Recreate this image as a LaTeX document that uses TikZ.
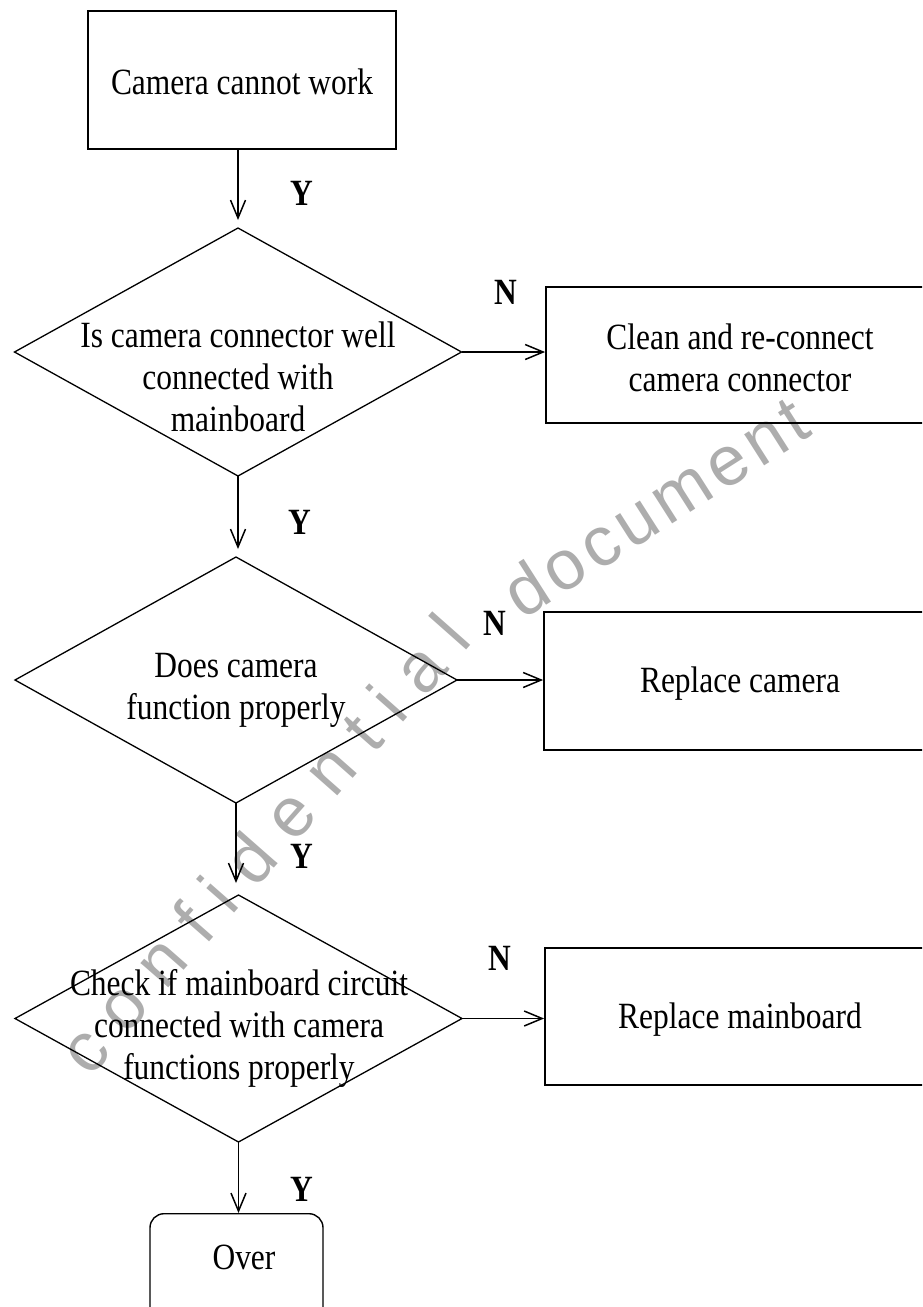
\documentclass[tikz,border=0pt]{standalone}
\usepackage{fontspec}
\setmainfont{Liberation Serif}[FakeStretch=0.85]
\newfontfamily\wmfont{Liberation Sans}
\usetikzlibrary{shapes.geometric,arrows.meta,decorations.text}
\begin{document}
\begin{tikzpicture}[x=1pt,y=-1pt,
  box/.style={draw,line width=1.8pt,rectangle,inner sep=0pt},
  dec/.style={draw,line width=1.3pt,diamond,inner sep=0pt,outer sep=0pt},
  txt/.style={align=center,inner sep=0pt,font=\fontsize{37}{42}\selectfont},
  lab/.style={inner sep=0pt,font=\fontsize{37}{42}\selectfont\bfseries},
  arr/.style={line width=1.5pt,-{Straight Barb[length=18pt,width=15pt,line width=1.5pt]}},
  wm/.style={decorate,decoration={text along path,
     text={|\wmfont\fontsize{70}{70}\selectfont|#1},
     text color=black!32, text align=fit to path}},
]
\useasboundingbox (0,0) rectangle (922,1307);
\clip (0,0) rectangle (922,1307);

% watermark
\coordinate (wma) at (90,1078);
\coordinate (wmac) at (290,850);
\coordinate (wmb) at (474,642);
\coordinate (wmc) at (522,620);
\coordinate (wmd) at (814,434);
\path[wm={confidential}] (wma) .. controls (wmac) .. (wmb);
\path[wm={document}] (wmc) -- (wmd);

% nodes
\node[box,minimum width=308pt,minimum height=138pt] (start) at (242,80) {};
\node[txt] (startt) at (242,82) {Camera cannot work};

\node[dec,minimum width=447pt,minimum height=248pt] (d1) at (238,352) {};
\node[txt] (d1t) at (238,377) {Is camera connector well\\connected with\\mainboard};

\node[box,minimum width=389pt,minimum height=136pt] (b2) at (740.5,355) {};
\node[txt] (b2t) at (740,358) {Clean and re-connect\\camera connector};

\node[dec,minimum width=442pt,minimum height=246pt] (d2) at (236,680) {};
\node[txt] (d2t) at (236,690) {Does camera\\function properly};

\node[box,minimum width=391pt,minimum height=138pt] (b3) at (739.5,681) {};
\node[txt] (b3t) at (740,684) {Replace camera};

\node[dec,minimum width=447pt,minimum height=247pt] (d3) at (238.5,1018.5) {};
\node[txt] (d3t) at (239,1028) {Check if mainboard circuit\\connected with camera\\functions properly};

\node[box,minimum width=390pt,minimum height=137pt] (b4) at (740,1016.5) {};
\node[txt] (b4t) at (740,1020) {Replace mainboard};

\node[box,line width=1.4pt,rounded corners=14pt,minimum width=173pt,minimum height=110pt,anchor=north] (over) at (236.5,1213) {};
\node[txt] (overt) at (244,1257) {Over};

% labels
\node[lab] (y1) at (302,193) {Y};
\node[lab] (y2) at (300,522) {Y};
\node[lab] (y3) at (302,856) {Y};
\node[lab] (y4) at (302,1189) {Y};
\node[lab] (n1) at (506,292) {N};
\node[lab] (n2) at (495,623) {N};
\node[lab] (n3) at (500,958) {N};

% connectors
\draw[arr,shorten >=8pt] (start.south -| d1.north) -- (d1.north);
\draw[arr,shorten >=8pt] (d1.south) -- (d1.south |- d2.north);
\draw[arr,shorten >=12pt] (d2.south) -- (d2.south |- d3.north);
\draw[arr] (d3.south) -- (d3.south |- over.north);
\draw[arr] (d1.east) -- (d1.east -| b2.west);
\draw[arr] (d2.east) -- (d2.east -| b3.west);
\draw[arr] (d3.east) -- (d3.east -| b4.west);
\end{tikzpicture}
\end{document}
